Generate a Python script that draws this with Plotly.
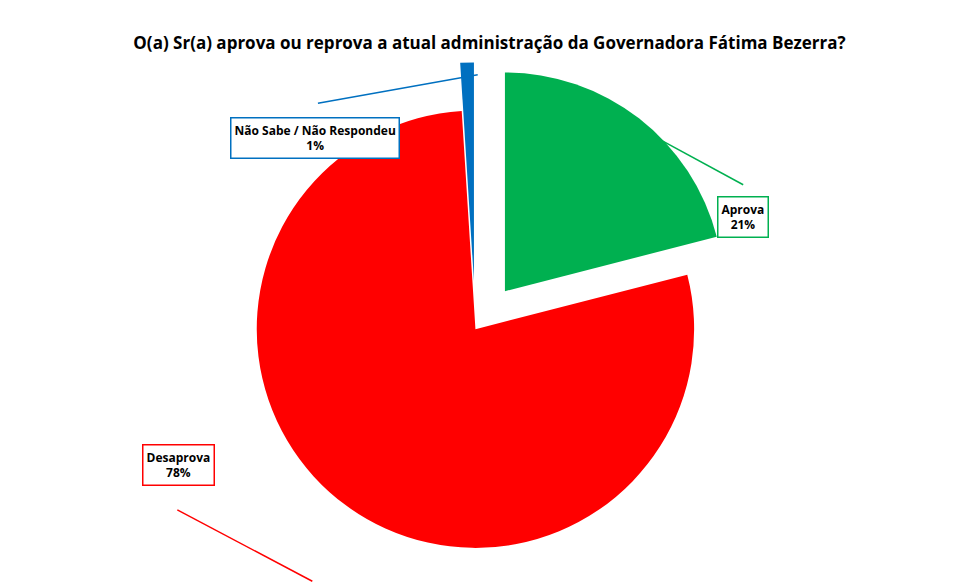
import plotly.graph_objects as go

labels = ["Aprova", "Desaprova", "Não Sabe / Não Respondeu"]
values = [21, 78, 1]
colors = ["#00B050", "#FF0000", "#0070C0"]
pulls = [0.22, 0, 0.22]

W, H = 963, 588
# observed plot area in pixels
L, T, PW, PH = 64.5, 44, 856, 519
def px(x): return (x - L) / PW
def py(y): return 1 - (y - T) / PH

fig = go.Figure(go.Pie(labels=labels, values=values, sort=False, direction="clockwise",
                       rotation=0, pull=pulls, marker=dict(colors=colors),
                       textinfo="none", hoverinfo="label+percent",
                       domain=dict(x=[px(200), px(760)], y=[0, py(92)])))

ann = [
    ("<b>Não Sabe / Não Respondeu<br>1%</b>", 262, 140, colors[2]),
    ("<b>Aprova<br>21%</b>", 741, 210, colors[0]),
    ("<b>Desaprova<br>78%</b>", 184, 466, colors[1]),
]
for t, x, y, c in ann:
    fig.add_annotation(text=t, x=px(x), y=py(y), xref="paper", yref="paper", showarrow=False,
                       font=dict(family="Open Sans", size=12, color="#000"),
                       bordercolor=c, borderwidth=1.5, borderpad=3, bgcolor="white")
lines = [((340, 128), (482, 103), colors[2]), ((718, 200), (640, 158), colors[0]),
         ((215, 487), (335, 550), colors[1])]
for (x0, y0), (x1, y1), c in lines:
    fig.add_shape(type="line", xref="paper", yref="paper", x0=px(x0), y0=py(y0),
                  x1=px(x1), y1=py(y1), line=dict(color=c, width=1.5))

fig.update_layout(width=W, height=H, margin=dict(l=0, r=0, t=0, b=0), showlegend=False,
                  paper_bgcolor="white",
                  title=dict(text="<b>O(a) Sr(a) aprova ou reprova a atual administração da Governadora Fátima Bezerra?</b>",
                             x=0.5, y=0.95, xanchor="center",
                             font=dict(family="Open Sans", size=17, color="#000")))
fig.write_html("out.html")
